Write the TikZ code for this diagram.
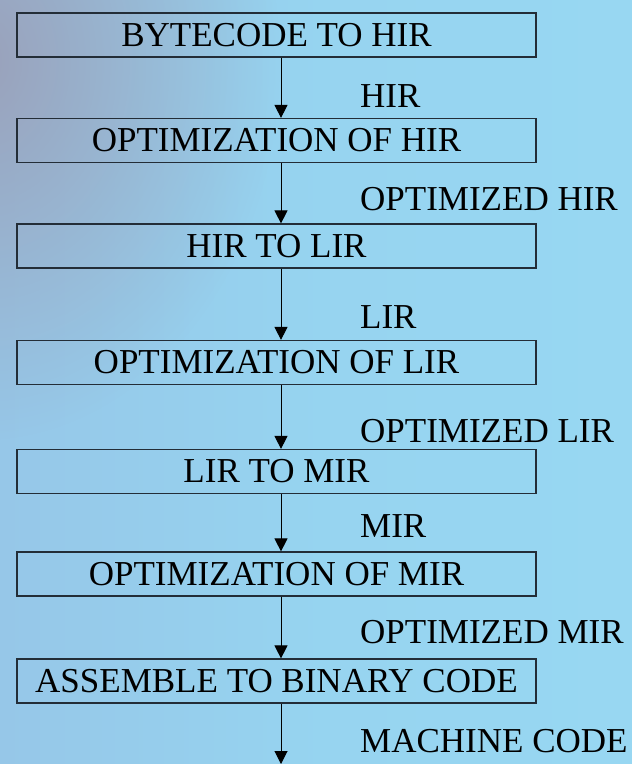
\documentclass[tikz,border=0pt]{standalone}
\usepackage{fontspec}
\setmainfont{Liberation Serif}
\usepackage{xcolor}
\usetikzlibrary{arrows.meta}
\usetikzlibrary{fadings}
\definecolor{edge}{RGB}{35, 45, 55}
\definecolor{haze}{RGB}{155, 152, 175}
\pgfdeclarehorizontalshading{bgshade}{100bp}{rgb(0bp)=(0.60,0.73,0.88); rgb(25bp)=(0.59,0.78,0.91); rgb(50bp)=(0.59,0.83,0.94); rgb(100bp)=(0.60,0.86,0.96)}
\tikzfading[name=hazefade, inner color=transparent!0, outer color=transparent!100]

\begin{document}
\begin{tikzpicture}[x=1pt, y=-1pt,
    stage/.style={draw=edge, line width=1.2pt, minimum width=519pt, minimum height=44pt,
        inner sep=0pt, font=\fontsize{35}{40}\selectfont},
    lbl/.style={anchor=base west, inner sep=0pt, font=\fontsize{35}{40}\selectfont},
    flow/.style={line width=1pt, -{Triangle[length=13pt, width=13pt]}}]
        \useasboundingbox (0,0) rectangle (632,764);
        \fill[shading=bgshade] (0,0) rectangle (632,764);
        \begin{scope}
            \clip (0,0) rectangle (632,764);
            \fill[haze, path fading=hazefade, opacity=0.8] (-20,60) ellipse (300pt and 380pt);
        \end{scope}
        % stages
        \node[stage] (bc) at (276.5,35) {BYTECODE TO HIR};
        \node[stage] (ohir) at (276.5,140.5) {OPTIMIZATION OF HIR};
        \node[stage] (hl) at (276.5,246) {HIR TO LIR};
        \node[stage] (olir) at (276.5,362.5) {OPTIMIZATION OF LIR};
        \node[stage] (lm) at (276.5,471.5) {LIR TO MIR};
        \node[stage] (omir) at (276.5,574) {OPTIMIZATION OF MIR};
        \node[stage] (asm) at (276.5,681) {ASSEMBLE TO BINARY CODE};
        \coordinate (out) at (281,764);
        % intermediate forms
        \node[lbl] (l1) at (360,107) {HIR};
        \node[lbl] (l2) at (360,210) {OPTIMIZED HIR};
        \node[lbl] (l3) at (360,328) {LIR};
        \node[lbl] (l4) at (360,442) {OPTIMIZED LIR};
        \node[lbl] (l5) at (360,537) {MIR};
        \node[lbl] (l6) at (360,643) {OPTIMIZED MIR};
        \node[lbl] (l7) at (360,752) {MACHINE CODE};
        % arrows
        \draw[flow] ([xshift=4.5pt]bc.south) -- ([xshift=4.5pt]ohir.north);
        \draw[flow] ([xshift=4.5pt]ohir.south) -- ([xshift=4.5pt]hl.north);
        \draw[flow] ([xshift=4.5pt]hl.south) -- ([xshift=4.5pt]olir.north);
        \draw[flow] ([xshift=4.5pt]olir.south) -- ([xshift=4.5pt]lm.north);
        \draw[flow] ([xshift=4.5pt]lm.south) -- ([xshift=4.5pt]omir.north);
        \draw[flow] ([xshift=4.5pt]omir.south) -- ([xshift=4.5pt]asm.north);
        \draw[flow] ([xshift=4.5pt]asm.south) -- (out);
    \end{tikzpicture}
\end{document}
